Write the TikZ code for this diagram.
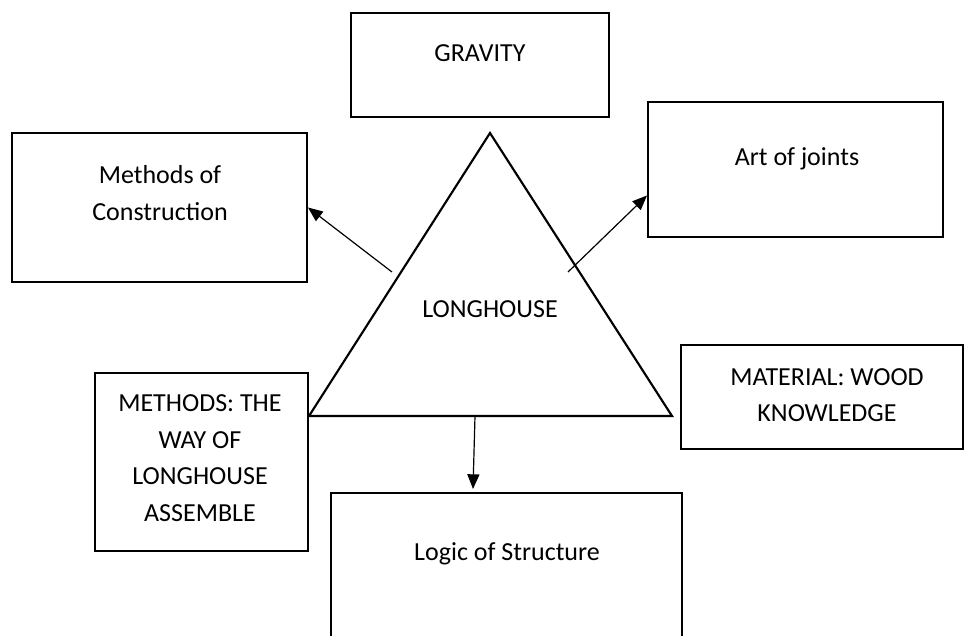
\documentclass[tikz,border=0pt]{standalone}
\usepackage{fontspec}
\setmainfont{Carlito}
\usetikzlibrary{fit,arrows.meta,calc}
\begin{document}
\begin{tikzpicture}[x=0.75pt,y=-0.75pt,
  box/.style={draw=black,line width=1.5pt,inner sep=0pt,fit={#1}},
  lbl/.style={align=center,inner sep=0pt,font=\fontsize{19.5}{27.5}\selectfont},
  arr/.style={line width=0.9pt,-{Triangle[length=11pt,width=9pt]}}]
\clip (0,0) rectangle (965,636);
% boxes
\node[box={(351,13) (609,117)}] (grav) {};
\node[lbl] (gravt) at (480,53) {GRAVITY};
\node[box={(12,133) (307,282)}] (mc) {};
\node[lbl] (mct) at (160,193) {Methods of\\Construction};
\node[box={(648,102) (943,237)}] (aj) {};
\node[lbl] (ajt) at (797,159) {Art of joints};
\node[box={(681,345) (963,449)}] (mw) {};
\node[lbl] (mwt) at (827,395) {MATERIAL: WOOD\\KNOWLEDGE};
\node[box={(95,373) (308,551)}] (mth) {};
\node[lbl] (mtht) at (200,458) {METHODS: THE\\WAY OF\\LONGHOUSE\\ASSEMBLE};
\node[box={(331,493) (682,680)}] (ls) {};
\node[lbl] (lst) at (507,554) {Logic of Structure};
% triangle
\coordinate (apex) at (490,133);
\coordinate (bl) at (309,416);
\coordinate (br) at (672,416);
\draw[line width=1.6pt,line join=miter] (apex) -- (bl) -- (br) -- cycle;
\node[lbl] (lh) at (490,309) {LONGHOUSE};
% arrows
\coordinate (s1) at (392,272);
\coordinate (s2) at (568,272);
\coordinate (s3) at (475,416);
\coordinate (e3) at (473,489);
\draw[arr] (s1) -- (mc.east);
\draw[arr] (s2) -- ([yshift=-19.5pt]aj.west);
\draw[arr] (s3) -- (e3);
\end{tikzpicture}
\end{document}
